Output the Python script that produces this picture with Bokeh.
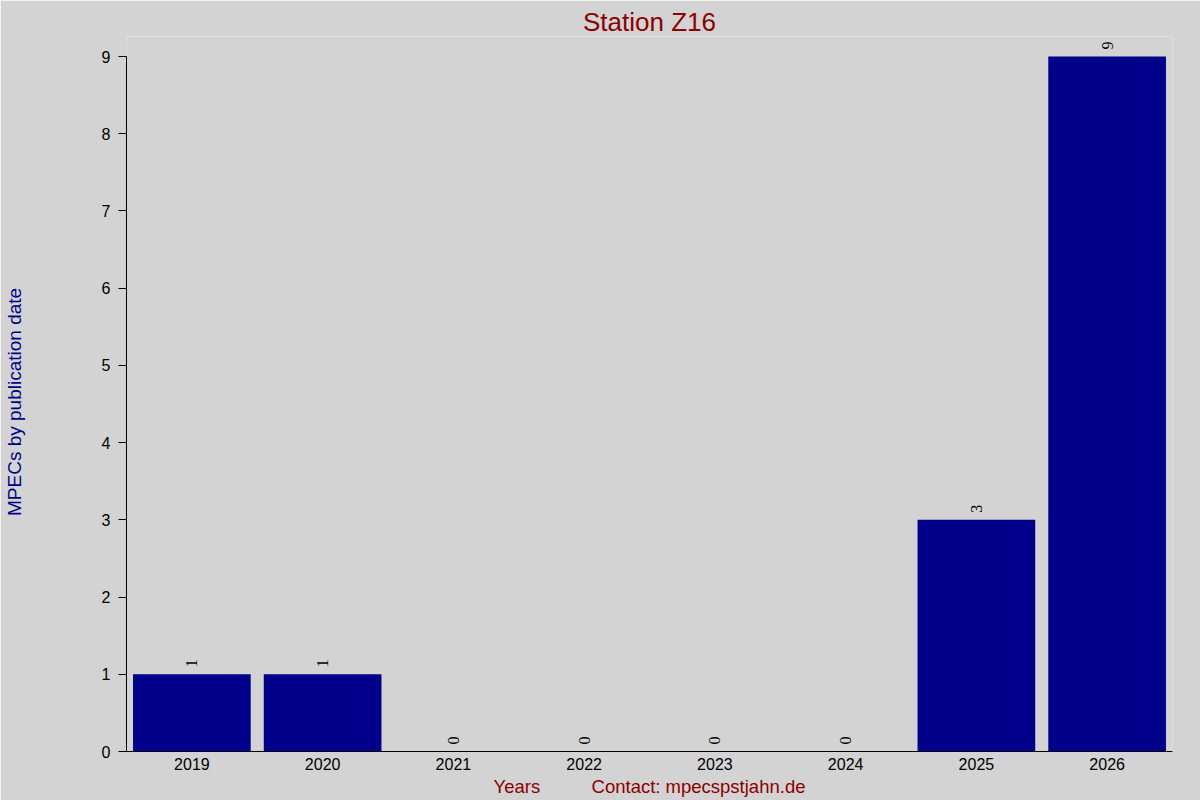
from bokeh.plotting import figure
from bokeh.models import ColumnDataSource, LabelSet, FactorRange, Range1d, FixedTicker
from bokeh.embed import file_html
from bokeh.resources import INLINE
import math

years = ["2019", "2020", "2021", "2022", "2023", "2024", "2025", "2026"]
counts = [1, 1, 0, 0, 0, 0, 3, 9]
y_ticks = list(range(0, 10))
y_max = 9

FONT = "Liberation Sans"
NB = "\u00a0"

src = ColumnDataSource(dict(year=years, count=counts, label=[str(c) for c in counts]))

p = figure(
    width=1200, height=800,
    x_range=FactorRange(*years, range_padding=0),
    y_range=Range1d(0, y_max * 715 / 695),
    output_backend="svg", toolbar_location=None,
    min_border_left=126, min_border_right=28, min_border_top=36, min_border_bottom=49,
    background_fill_color="#D3D3D3", border_fill_color="#D3D3D3",
    outline_line_color=None,
)

p.vbar(x="year", top="count", width=0.9, source=src, color="#00008B", line_color=None)

labels = LabelSet(x="year", y="count", text="label", source=src, angle=math.pi / 2,
                  text_align="left", text_baseline="middle", y_offset=7,
                  text_font=FONT, text_font_size="16px", text_color="#000000")
p.add_layout(labels)

p.title.text = "Station Z16"
p.title.align = "center"
p.title.text_font = FONT
p.title.text_font_size = "26px"
p.title.text_font_style = "normal"
p.title.text_color = "#8B0000"
p.title.standoff = 0

p.xgrid.visible = False
p.ygrid.visible = False

p.yaxis.ticker = FixedTicker(ticks=y_ticks)
p.yaxis.bounds = (0, y_max)
p.yaxis.minor_tick_line_color = None
p.yaxis.major_tick_out = 8
p.yaxis.major_tick_in = 0
p.yaxis.major_label_standoff = 8
p.yaxis.axis_label = "MPECs by publication date" + NB * 3
p.yaxis.axis_label_standoff = 74
p.yaxis.axis_label_text_color = "#00008B"

p.xaxis.major_tick_out = 0
p.xaxis.major_tick_in = 0
p.xaxis.major_label_standoff = 6
p.xaxis.axis_label = "Years" + NB * 10 + "Contact: mpecspstjahn.de"
p.xaxis.axis_label_standoff = 3
p.xaxis.axis_label_text_color = "#8B0000"

for ax in (p.xaxis, p.yaxis):
    ax.axis_line_color = "#000000"
    ax.major_tick_line_color = "#000000"
    ax.major_label_text_font = FONT
    ax.major_label_text_font_size = "16px"
    ax.major_label_text_color = "#000000"
    ax.axis_label_text_font = FONT
    ax.axis_label_text_font_style = "normal"

p.yaxis.axis_label_text_font_size = "19px"
p.xaxis.axis_label_text_font_size = "18.5px"

open("out.html", "w").write(file_html(p, INLINE))
